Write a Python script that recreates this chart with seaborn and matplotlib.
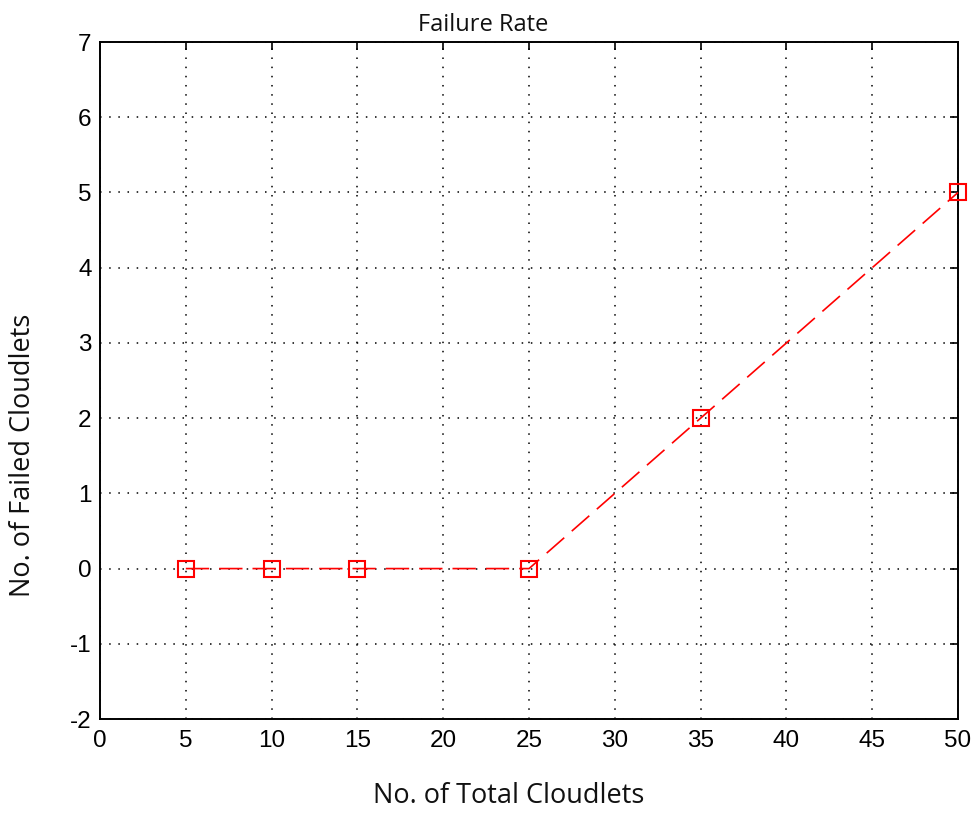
import numpy as np
import pandas as pd
import seaborn as sns
import matplotlib.pyplot as plt

# data
total_cloudlets = [5, 10, 15, 25, 35, 50]
failed_cloudlets = [0, 0, 0, 0, 2, 5]
x_ticks = list(range(0, 55, 5))
y_ticks = list(range(-2, 8))

df = pd.DataFrame({'total': total_cloudlets, 'failed': failed_cloudlets})

sns.set_style('white')
plt.rcParams['font.family'] = ['Liberation Sans', 'DejaVu Sans']
plt.rcParams['axes.unicode_minus'] = False

fig = plt.figure(figsize=(9.75, 8.13), dpi=100)
ax = fig.add_axes([0.1026, 0.1156, 0.88, 0.8327])

sns.lineplot(data=df, x='total', y='failed', ax=ax, color='red',
             linestyle=(0, (14, 6)), linewidth=1.2, marker='s', markersize=12,
             markerfacecolor='none', markeredgecolor='red', markeredgewidth=1.5,
             clip_on=False, zorder=5)

ax.set_xlim(0, 50)
ax.set_ylim(-2, 7)
ax.set_xticks(x_ticks)
ax.set_yticks(y_ticks)
ax.grid(True, linestyle=(0, (1, 5)), color='black', linewidth=1.1)
ax.tick_params(direction='in', length=6, width=1.2, top=True, right=True,
               labelsize=17.5, colors='black')
ax.tick_params(axis='x', pad=8)
ax.tick_params(axis='y', pad=6)
for s in ax.spines.values():
    s.set_color('black')
    s.set_linewidth(1.4)

lab_font = ['Open Sans', 'DejaVu Sans']
ax.set_title('Failure Rate', fontsize=17, family=lab_font, color='#111111',
             x=0.447, y=1.0, pad=8)
ax.set_xlabel('No. of Total Cloudlets', fontsize=19.5, family=lab_font, color='#111111')
ax.set_ylabel('No. of Failed Cloudlets', fontsize=19.5, family=lab_font, color='#111111')
ax.xaxis.set_label_coords(0.476, -0.093)
ax.yaxis.set_label_coords(-0.073, 0.39)

fig.savefig('out.png', dpi=100)
